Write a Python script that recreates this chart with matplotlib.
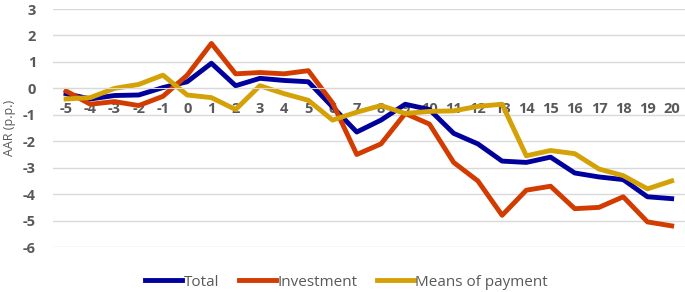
import matplotlib.pyplot as plt

plt.rcParams["font.family"] = ["Open Sans", "DejaVu Sans"]
plt.rcParams["axes.unicode_minus"] = False

periodos = list(range(-5, 21))
total = [-0.2, -0.4, -0.27, -0.25, 0.03, 0.25, 0.95, 0.1, 0.38, 0.3, 0.25, -0.7, -1.65, -1.2, -0.6, -0.8,
         -1.7, -2.1, -2.75, -2.8, -2.6, -3.2, -3.35, -3.45, -4.1, -4.17]
inversion = [-0.1, -0.6, -0.5, -0.65, -0.3, 0.5, 1.7, 0.55, 0.6, 0.55, 0.67, -0.55, -2.5, -2.1, -0.95, -1.35,
             -2.8, -3.5, -4.8, -3.85, -3.7, -4.55, -4.5, -4.1, -5.05, -5.2]
medios_pago = [-0.4, -0.35, 0.0, 0.15, 0.5, -0.25, -0.35, -0.8, 0.1, -0.2, -0.45, -1.2, -0.9, -0.65, -0.95, -0.87,
               -0.85, -0.68, -0.6, -2.55, -2.35, -2.47, -3.05, -3.3, -3.8, -3.5]
etiquetas = ["Total", "Investment", "Means of payment"]

gris = "#595959"

fig = plt.figure(figsize=(6.85, 2.92), dpi=100)
ax = fig.add_axes([0.077, 0.154, 0.923, 0.815])

ax.plot(periodos, total, color="#00009C", lw=3.5, label=etiquetas[0])
ax.plot(periodos, inversion, color="#D23C00", lw=3.5, label=etiquetas[1])
ax.plot(periodos, medios_pago, color="#D4A106", lw=3.5, label=etiquetas[2])

ax.set_xlim(-5.55, 20.55)
ax.set_ylim(-6, 3)
ax.set_yticks(range(-6, 4))
ax.set_xticks(periodos)
ax.grid(axis="y", color="#D9D9D9", lw=1)
ax.set_axisbelow(True)

for s in ["top", "right", "left"]:
    ax.spines[s].set_visible(False)
ax.spines["bottom"].set_position(("data", 0))
ax.spines["bottom"].set_color("#D9D9D9")

ax.tick_params(axis="x", length=0, pad=10, labelsize=10.5, labelcolor=gris)
ax.tick_params(axis="y", length=0, pad=12, labelsize=10.5, labelcolor=gris)
for t in ax.get_xticklabels() + ax.get_yticklabels():
    t.set_fontweight("bold")

ax.set_ylabel("AAR (p.p.)", color=gris, fontsize=9)
ax.yaxis.set_label_coords(-0.058, 0.5)

ax.legend(loc="center", bbox_to_anchor=(0.465, -0.147), ncol=3, frameon=False,
          fontsize=11, labelcolor=gris, handlelength=2.4, handletextpad=0.1, columnspacing=1.3)

plt.savefig("out.png", dpi=100)
